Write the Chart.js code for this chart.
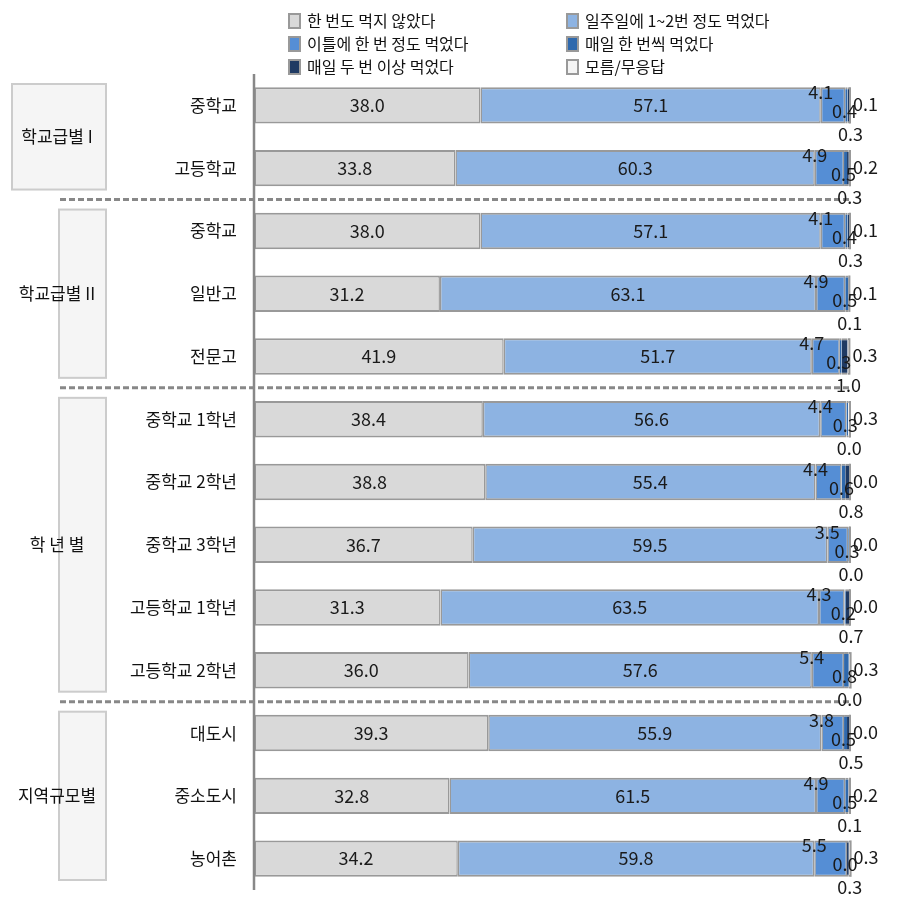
<!DOCTYPE html>
<html>
<head>
<meta charset="utf-8">
<script src="https://cdn.jsdelivr.net/npm/chart.js@4.4.1/dist/chart.umd.min.js"></script>
<style>
  html, body { margin: 0; padding: 0; background: #fff; }
  #wrap { width: 904px; height: 913px; position: relative; }
</style>
</head>
<body>
<div id="wrap"><canvas id="myChart" width="904" height="913"></canvas></div>
<script>
// rows (top to bottom)
const categories = ['중학교', '고등학교', '중학교', '일반고', '전문고',
  '중학교 1학년', '중학교 2학년', '중학교 3학년', '고등학교 1학년', '고등학교 2학년',
  '대도시', '중소도시', '농어촌'];

// groups: label, first row, last row
const groupLabels = ['학교급별 I', '학교급별 II', '학 년 별', '지역규모별'];
const groupStart = [0, 2, 5, 10];
const groupEnd = [1, 4, 9, 12];

const seriesNames = ['한 번도 먹지 않았다', '일주일에 1~2번 정도 먹었다', '이틀에 한 번 정도 먹었다',
  '매일 한 번씩 먹었다', '매일 두 번 이상 먹었다', '모름/무응답'];

const never = [38.0, 33.8, 38.0, 31.2, 41.9, 38.4, 38.8, 36.7, 31.3, 36.0, 39.3, 32.8, 34.2];
const weekly = [57.1, 60.3, 57.1, 63.1, 51.7, 56.6, 55.4, 59.5, 63.5, 57.6, 55.9, 61.5, 59.8];
const everyOther = [4.1, 4.9, 4.1, 4.9, 4.7, 4.4, 4.4, 3.5, 4.3, 5.4, 3.8, 4.9, 5.5];
const daily = [0.4, 0.5, 0.4, 0.5, 0.3, 0.3, 0.6, 0.3, 0.2, 0.8, 0.5, 0.5, 0.0];
const twiceDaily = [0.3, 0.3, 0.3, 0.1, 1.0, 0.0, 0.8, 0.0, 0.7, 0.0, 0.5, 0.1, 0.3];
const noAnswer = [0.1, 0.2, 0.1, 0.1, 0.3, 0.3, 0.0, 0.0, 0.0, 0.3, 0.0, 0.2, 0.3];

const colors = ['#d9d9d9', '#8db3e2', '#558ed5', '#2f69ad', '#1f3a63', '#f4f4f4'];
const seriesData = [never, weekly, everyOther, daily, twiceDaily, noAnswer];

const FONT = '"Noto Sans CJK KR", "Noto Sans", sans-serif';

// segment borders: full frame on the wide ones, only top/bottom on the thin ones
function segBorder(d, v) {
  if (v === 0) return 0;
  if (d === 0) return { left: 2, right: 1.5, top: 2, bottom: 2 };
  if (d < 3) return { left: 1.5, right: 1.5, top: 2, bottom: 2 };
  return { left: 0, right: 0, top: 2, bottom: 2 };
}

// draws legend, group boxes, separators, axis line, category and value labels
const decorations = {
  id: 'decorations',
  beforeDatasetsDraw(chart) {
    const ctx = chart.ctx;
    const area = chart.chartArea;
    const y = chart.scales.y;
    const half = (y.getPixelForValue(1) - y.getPixelForValue(0)) / 2;
    ctx.save();

    // group boxes
    for (let g = 0; g < groupLabels.length; g++) {
      const top = y.getPixelForValue(groupStart[g]) - half + 10;
      const bottom = y.getPixelForValue(groupEnd[g]) + half - 10;
      const left = g === 0 ? 12 : 59;
      ctx.fillStyle = '#f5f5f5';
      ctx.fillRect(left, top, 106 - left, bottom - top);
      ctx.strokeStyle = '#cccccc';
      ctx.lineWidth = 2;
      ctx.strokeRect(left, top, 106 - left, bottom - top);
      ctx.fillStyle = '#111';
      ctx.font = '17px ' + FONT;
      ctx.textAlign = 'center';
      ctx.textBaseline = 'middle';
      ctx.fillText(groupLabels[g], 57, (top + bottom) / 2);
    }

    // dashed separators between groups
    ctx.strokeStyle = '#888';
    ctx.lineWidth = 3;
    ctx.setLineDash([6, 3]);
    for (let g = 1; g < groupLabels.length; g++) {
      const sy = (y.getPixelForValue(groupStart[g]) + y.getPixelForValue(groupStart[g] - 1)) / 2;
      ctx.beginPath();
      ctx.moveTo(60, sy);
      ctx.lineTo(area.right, sy);
      ctx.stroke();
    }
    ctx.setLineDash([]);

    // category labels
    ctx.fillStyle = '#111';
    ctx.font = '17px ' + FONT;
    ctx.textAlign = 'right';
    ctx.textBaseline = 'middle';
    categories.forEach((c, i) => ctx.fillText(c, 237, y.getPixelForValue(i)));

    // legend, two columns
    ctx.font = '16px ' + FONT;
    ctx.textAlign = 'left';
    seriesNames.forEach((name, i) => {
      const lx = i % 2 === 0 ? 289 : 567;
      const ly = 21 + Math.floor(i / 2) * 23;
      ctx.fillStyle = colors[i];
      ctx.fillRect(lx, ly - 7, 11, 14);
      ctx.strokeStyle = '#999';
      ctx.lineWidth = 2;
      ctx.strokeRect(lx, ly - 7, 11, 14);
      ctx.fillStyle = '#111';
      ctx.fillText(name, lx + 18, ly);
    });
    ctx.restore();
  },
  afterDatasetsDraw(chart) {
    const ctx = chart.ctx;
    const area = chart.chartArea;
    ctx.save();

    // right-hand end of each bar gets the gray frame edge
    const last = chart.getDatasetMeta(chart.data.datasets.length - 1);
    ctx.strokeStyle = '#999';
    ctx.lineWidth = 2;
    last.data.forEach(bar => {
      const end = Math.max(bar.x, bar.base);
      ctx.beginPath();
      ctx.moveTo(end, bar.y - bar.height / 2);
      ctx.lineTo(end, bar.y + bar.height / 2);
      ctx.stroke();
    });

    // vertical category axis line
    ctx.strokeStyle = '#888';
    ctx.lineWidth = 2.5;
    ctx.beginPath();
    ctx.moveTo(254, area.top);
    ctx.lineTo(254, area.bottom);
    ctx.stroke();

    ctx.fillStyle = '#1a1a1a';
    ctx.font = '18px ' + FONT;
    ctx.textBaseline = 'middle';
    chart.data.datasets.forEach((ds, d) => {
      const meta = chart.getDatasetMeta(d);
      meta.data.forEach((bar, i) => {
        const txt = ds.data[i].toFixed(1);
        const start = Math.min(bar.x, bar.base);
        const end = Math.max(bar.x, bar.base);
        const mid = (start + end) / 2;
        if (d < 2) {
          ctx.textAlign = 'center';
          ctx.fillText(txt, mid, bar.y);
        } else if (d === 2) {
          ctx.textAlign = 'center';
          ctx.fillText(txt, start, bar.y - 13);
        } else if (d === 3) {
          ctx.textAlign = 'center';
          ctx.fillText(txt, mid - 2, bar.y + 6);
        } else if (d === 4) {
          ctx.textAlign = 'center';
          ctx.fillText(txt, end + 1, bar.y + 29);
        } else {
          ctx.textAlign = 'left';
          ctx.fillText(txt, end + 3, bar.y - 1);
        }
      });
    });
    ctx.restore();
  }
};

const grapharea = document.getElementById('myChart');
new Chart(grapharea, {
  type: 'bar',
  data: {
    labels: categories,
    datasets: seriesData.map((vals, i) => ({
      label: seriesNames[i],
      data: vals,
      backgroundColor: colors[i],
      borderColor: '#999',
      borderWidth: ctx => segBorder(i, ctx.raw),
      borderSkipped: false,
      categoryPercentage: 1,
      barPercentage: 0.58
    }))
  },
  options: {
    indexAxis: 'y',
    responsive: false,
    animation: false,
    layout: { padding: { left: 254, right: 54, top: 74, bottom: 23 } },
    scales: {
      x: { stacked: true, min: 0, max: 100, display: false },
      y: { stacked: true, display: false }
    },
    plugins: {
      legend: { display: false },
      tooltip: { enabled: false }
    }
  },
  plugins: [decorations]
});
</script>
</body>
</html>
